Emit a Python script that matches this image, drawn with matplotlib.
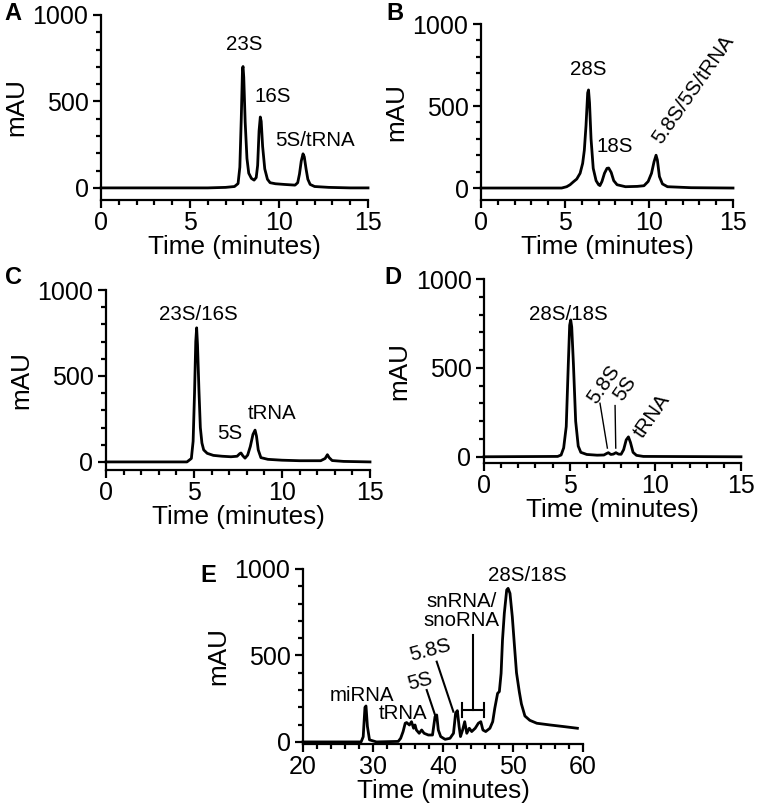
import matplotlib
matplotlib.use("Agg")
import matplotlib.pyplot as plt

plt.rcParams['font.family'] = ['Liberation Sans', 'DejaVu Sans']

# ---------------- data ----------------
y_ticks = [0, 500, 1000]
ad_xticks = [0, 5, 10, 15]
e_xticks = [20, 30, 40, 50, 60]

a_time = [0, 6.0, 7.0, 7.5, 7.7, 7.8, 7.88, 7.95, 7.98, 8.02, 8.1, 8.2, 8.3, 8.45, 8.6,
          8.72, 8.8, 8.88, 8.95, 9.0, 9.08, 9.2, 9.35, 9.5, 9.8, 10.3, 10.9, 11.05, 11.15,
          11.25, 11.35, 11.42, 11.52, 11.62, 11.75, 12.0, 12.8, 14.0, 15.0]
a_mau = [0, 0, 3, 8, 25, 120, 400, 690, 702, 640, 380, 170, 85, 55, 45,
         60, 130, 330, 410, 385, 240, 110, 50, 30, 24, 20, 16, 30, 80,
         155, 197, 180, 110, 50, 20, 8, 3, 0, 0]
a_labels = ["23S", "16S", "5S/tRNA"]
a_label_t = [8.07, 9.66, 12.01]
a_label_v = [827, 528, 277]

b_time = [0, 4.8, 5.1, 5.3, 5.5, 5.7, 5.9, 6.05, 6.15, 6.25, 6.35, 6.4, 6.46, 6.55, 6.68,
          6.85, 7.0, 7.08, 7.2, 7.35, 7.5, 7.6, 7.75, 7.9, 8.1, 8.6, 9.3, 9.7, 9.95, 10.15,
          10.3, 10.42, 10.5, 10.62, 10.8, 11.1, 11.8, 12.5, 15.0]
b_mau = [0, 0, 8, 20, 38, 55, 90, 150, 230, 380, 580, 598, 520, 300, 120,
         45, 20, 15, 40, 90, 120, 122, 95, 45, 20, 8, 10, 14, 40, 90,
         160, 200, 170, 70, 25, 8, 5, 2, 0]
b_labels = ["28S", "18S", "5.8S/5S/tRNA"]
b_label_t = [6.39, 7.98, 12.64]
b_label_v = [720, 252, 598]
b_label_rot = [0, 0, 55]

c_time = [0, 4.6, 4.85, 4.95, 5.03, 5.1, 5.15, 5.2, 5.28, 5.36, 5.45, 5.55, 5.75, 6.1,
          6.6, 7.1, 7.45, 7.6, 7.67, 7.78, 7.9, 8.05, 8.2, 8.35, 8.47, 8.55, 8.65, 8.8,
          9.2, 10.0, 11.0, 12.2, 12.45, 12.58, 12.68, 12.85, 13.5, 15.0]
c_mau = [0, 0, 20, 120, 400, 700, 780, 680, 420, 200, 110, 70, 50, 38,
         33, 30, 33, 48, 52, 35, 22, 40, 90, 160, 185, 150, 70, 25,
         15, 10, 7, 7, 20, 42, 25, 8, 3, 0]
c_labels = ["23S/16S", "5S", "tRNA"]
c_label_t = [5.25, 7.05, 9.41]
c_label_v = [855, 167, 279]

d_time = [0, 4.3, 4.5, 4.65, 4.8, 4.92, 5.0, 5.06, 5.12, 5.22, 5.35, 5.5, 5.65, 6.0,
          6.6, 7.0, 7.15, 7.26, 7.4, 7.55, 7.7, 7.85, 8.0, 8.15, 8.3, 8.43, 8.55, 8.7,
          8.9, 9.3, 15.0]
d_mau = [0, 2, 10, 50, 170, 520, 740, 770, 730, 520, 200, 60, 25, 13,
         9, 10, 18, 23, 13, 15, 23, 15, 14, 40, 95, 112, 80, 25,
         8, 2, 0]
d_labels = ["28S/18S", "5.8S", "5S", "tRNA"]
d_label_t = [4.92, 7.0, 8.23, 9.79]
d_label_v = [801, 405, 386, 231]
d_label_rot = [0, 55, 55, 55]
d_line_58s_t = [6.77, 7.2]
d_line_58s_v = [301, 49]
d_line_5s_t = [7.65, 7.69]
d_line_5s_v = [288, 49]

e_time = [20, 28.3, 28.6, 28.85, 29.0, 29.2, 29.5, 30.5, 33.6, 33.95, 34.3, 34.6, 34.8,
          35.2, 35.5, 35.8, 36.0, 36.2, 36.6, 36.95, 37.3, 37.9, 38.5, 38.86, 39.1,
          39.33, 39.67, 40.3, 41.0, 41.5, 41.8, 42.05, 42.3, 42.5, 42.8, 43.1, 43.4,
          43.76, 44.1, 44.6, 45.05, 45.4, 45.7, 46.1, 46.7, 47.1, 47.4, 47.8, 48.05,
          48.3, 48.5, 48.76, 49.1, 49.3, 49.57, 49.9, 50.2, 50.5, 50.9, 51.2, 51.7,
          52.4, 53.4, 55.3, 57.2, 59.2]
e_mau = [0, 0, 30, 200, 208, 90, 12, 0, 3, 21, 60, 108, 112,
         98, 117, 79, 98, 69, 50, 69, 50, 40, 40, 146, 156,
         69, 31, 15, 21, 50, 166, 181, 89, 31, 69, 117, 50,
         79, 60, 79, 108, 117, 69, 60, 79, 117, 195, 281, 291,
         397, 590, 744, 879, 888, 859, 724, 560, 400, 290, 220, 150,
         125, 108, 98, 89, 79]
e_labels = ["miRNA", "tRNA", "5S", "5.8S", "snRNA/\nsnoRNA", "28S/18S"]
e_label_t = [28.38, 34.33, 36.71, 38.14, 42.67, 52.05]
e_label_v = [266, 166, 349, 532, 760, 965]
e_label_rot = [0, 0, 15, 15, 0, 0]
e_line_5s_t = [37.67, 38.86]
e_line_5s_v = [300, 156]
e_line_58s_t = [39.1, 41.48]
e_line_58s_v = [464, 175]
e_bracket_t = [42.67, 45.86]
e_bracket_v = 185
e_stem_t = 44.24
e_stem_v = [618, 185]

# ---------------- layout ----------------
W, H = 760, 806
fig = plt.figure(figsize=(W / 100, H / 100), dpi=100)


def px_axes(left, top, right, bottom):
    return fig.add_axes([left / W, 1 - bottom / H, (right - left) / W, (bottom - top) / H])


LW_AX = 1.6
LW_DATA = 2.0


def style(ax, xlim, ylim, xticks, xminor):
    ax.set_xlim(*xlim)
    ax.set_ylim(*ylim)
    for s in ['top', 'right']:
        ax.spines[s].set_visible(False)
    for s in ['left', 'bottom']:
        ax.spines[s].set_linewidth(LW_AX)
    ax.set_xticks(xticks)
    ax.set_xticks([x for x in range(int(xlim[0]), int(xlim[1]) + 1, xminor)
                   if x not in xticks], minor=True)
    ax.set_yticks(y_ticks)
    ax.set_yticks([y for y in range(100, 1000, 100) if y not in y_ticks], minor=True)
    ax.tick_params(which='major', length=6, width=LW_AX, labelsize=18, color='black')
    ax.tick_params(which='minor', length=3.5, width=LW_AX)
    ax.tick_params(axis='x', pad=2)
    ax.tick_params(axis='y', pad=3)
    ax.set_xlabel('Time (minutes)', fontsize=18.8, labelpad=0)
    ax.set_ylabel('mAU', fontsize=18.8, labelpad=3)


ANN = 14.8

# A
axA = px_axes(101, 15, 368, 200)
style(axA, (0, 15), (-70, 1000), ad_xticks, 1)
axA.plot(a_time, a_mau, color='black', lw=LW_DATA, clip_on=False)
for s, t, v in zip(a_labels, a_label_t, a_label_v):
    axA.text(t, v, s, ha='center', va='center', fontsize=ANN)

# B
axB = px_axes(481, 24, 733, 200)
style(axB, (0, 15), (-73, 1000), ad_xticks, 1)
axB.plot(b_time, b_mau, color='black', lw=LW_DATA, clip_on=False)
for s, t, v, r in zip(b_labels, b_label_t, b_label_v, b_label_rot):
    axB.text(t, v, s, ha='center', va='center', fontsize=ANN, rotation=r)

# C
axC = px_axes(106, 290, 370, 470)
style(axC, (0, 15), (-47, 1000), ad_xticks, 1)
axC.plot(c_time, c_mau, color='black', lw=LW_DATA, clip_on=False)
for s, t, v in zip(c_labels, c_label_t, c_label_v):
    axC.text(t, v, s, ha='center', va='center', fontsize=ANN)

# D
axD = px_axes(484, 279, 741, 463)
style(axD, (0, 15), (-35, 1000), ad_xticks, 1)
axD.plot(d_time, d_mau, color='black', lw=LW_DATA, clip_on=False)
for s, t, v, r in zip(d_labels, d_label_t, d_label_v, d_label_rot):
    axD.text(t, v, s, ha='center', va='center', fontsize=ANN, rotation=r)
axD.plot(d_line_58s_t, d_line_58s_v, color='black', lw=1.0)
axD.plot(d_line_5s_t, d_line_5s_v, color='black', lw=1.0)

# E
axE = px_axes(303, 569, 583, 744)
style(axE, (20, 60), (-12, 1000), e_xticks, 2)
axE.plot(e_time, e_mau, color='black', lw=LW_DATA, clip_on=False)
for s, t, v, r in zip(e_labels, e_label_t, e_label_v, e_label_rot):
    axE.text(t, v, s, ha='center', va='center', fontsize=ANN, rotation=r,
             linespacing=1.0)
axE.plot(e_line_5s_t, e_line_5s_v, color='black', lw=1.5)
axE.plot(e_line_58s_t, e_line_58s_v, color='black', lw=1.5)
axE.plot(e_bracket_t, [e_bracket_v, e_bracket_v], color='black', lw=1.5)
axE.plot([e_stem_t, e_stem_t], e_stem_v, color='black', lw=1.5)
for t in e_bracket_t:
    axE.plot([t, t], [e_bracket_v - 38, e_bracket_v + 38], color='black', lw=1.5)

# panel letters
for letter, (x, y) in zip("ABCDE", [(13, 14), (395, 13), (14, 278), (393, 277), (208, 575)]):
    fig.text(x / W, 1 - y / H, letter, fontsize=17, fontweight='bold',
             ha='center', va='center')

fig.savefig("out.png", dpi=100)
